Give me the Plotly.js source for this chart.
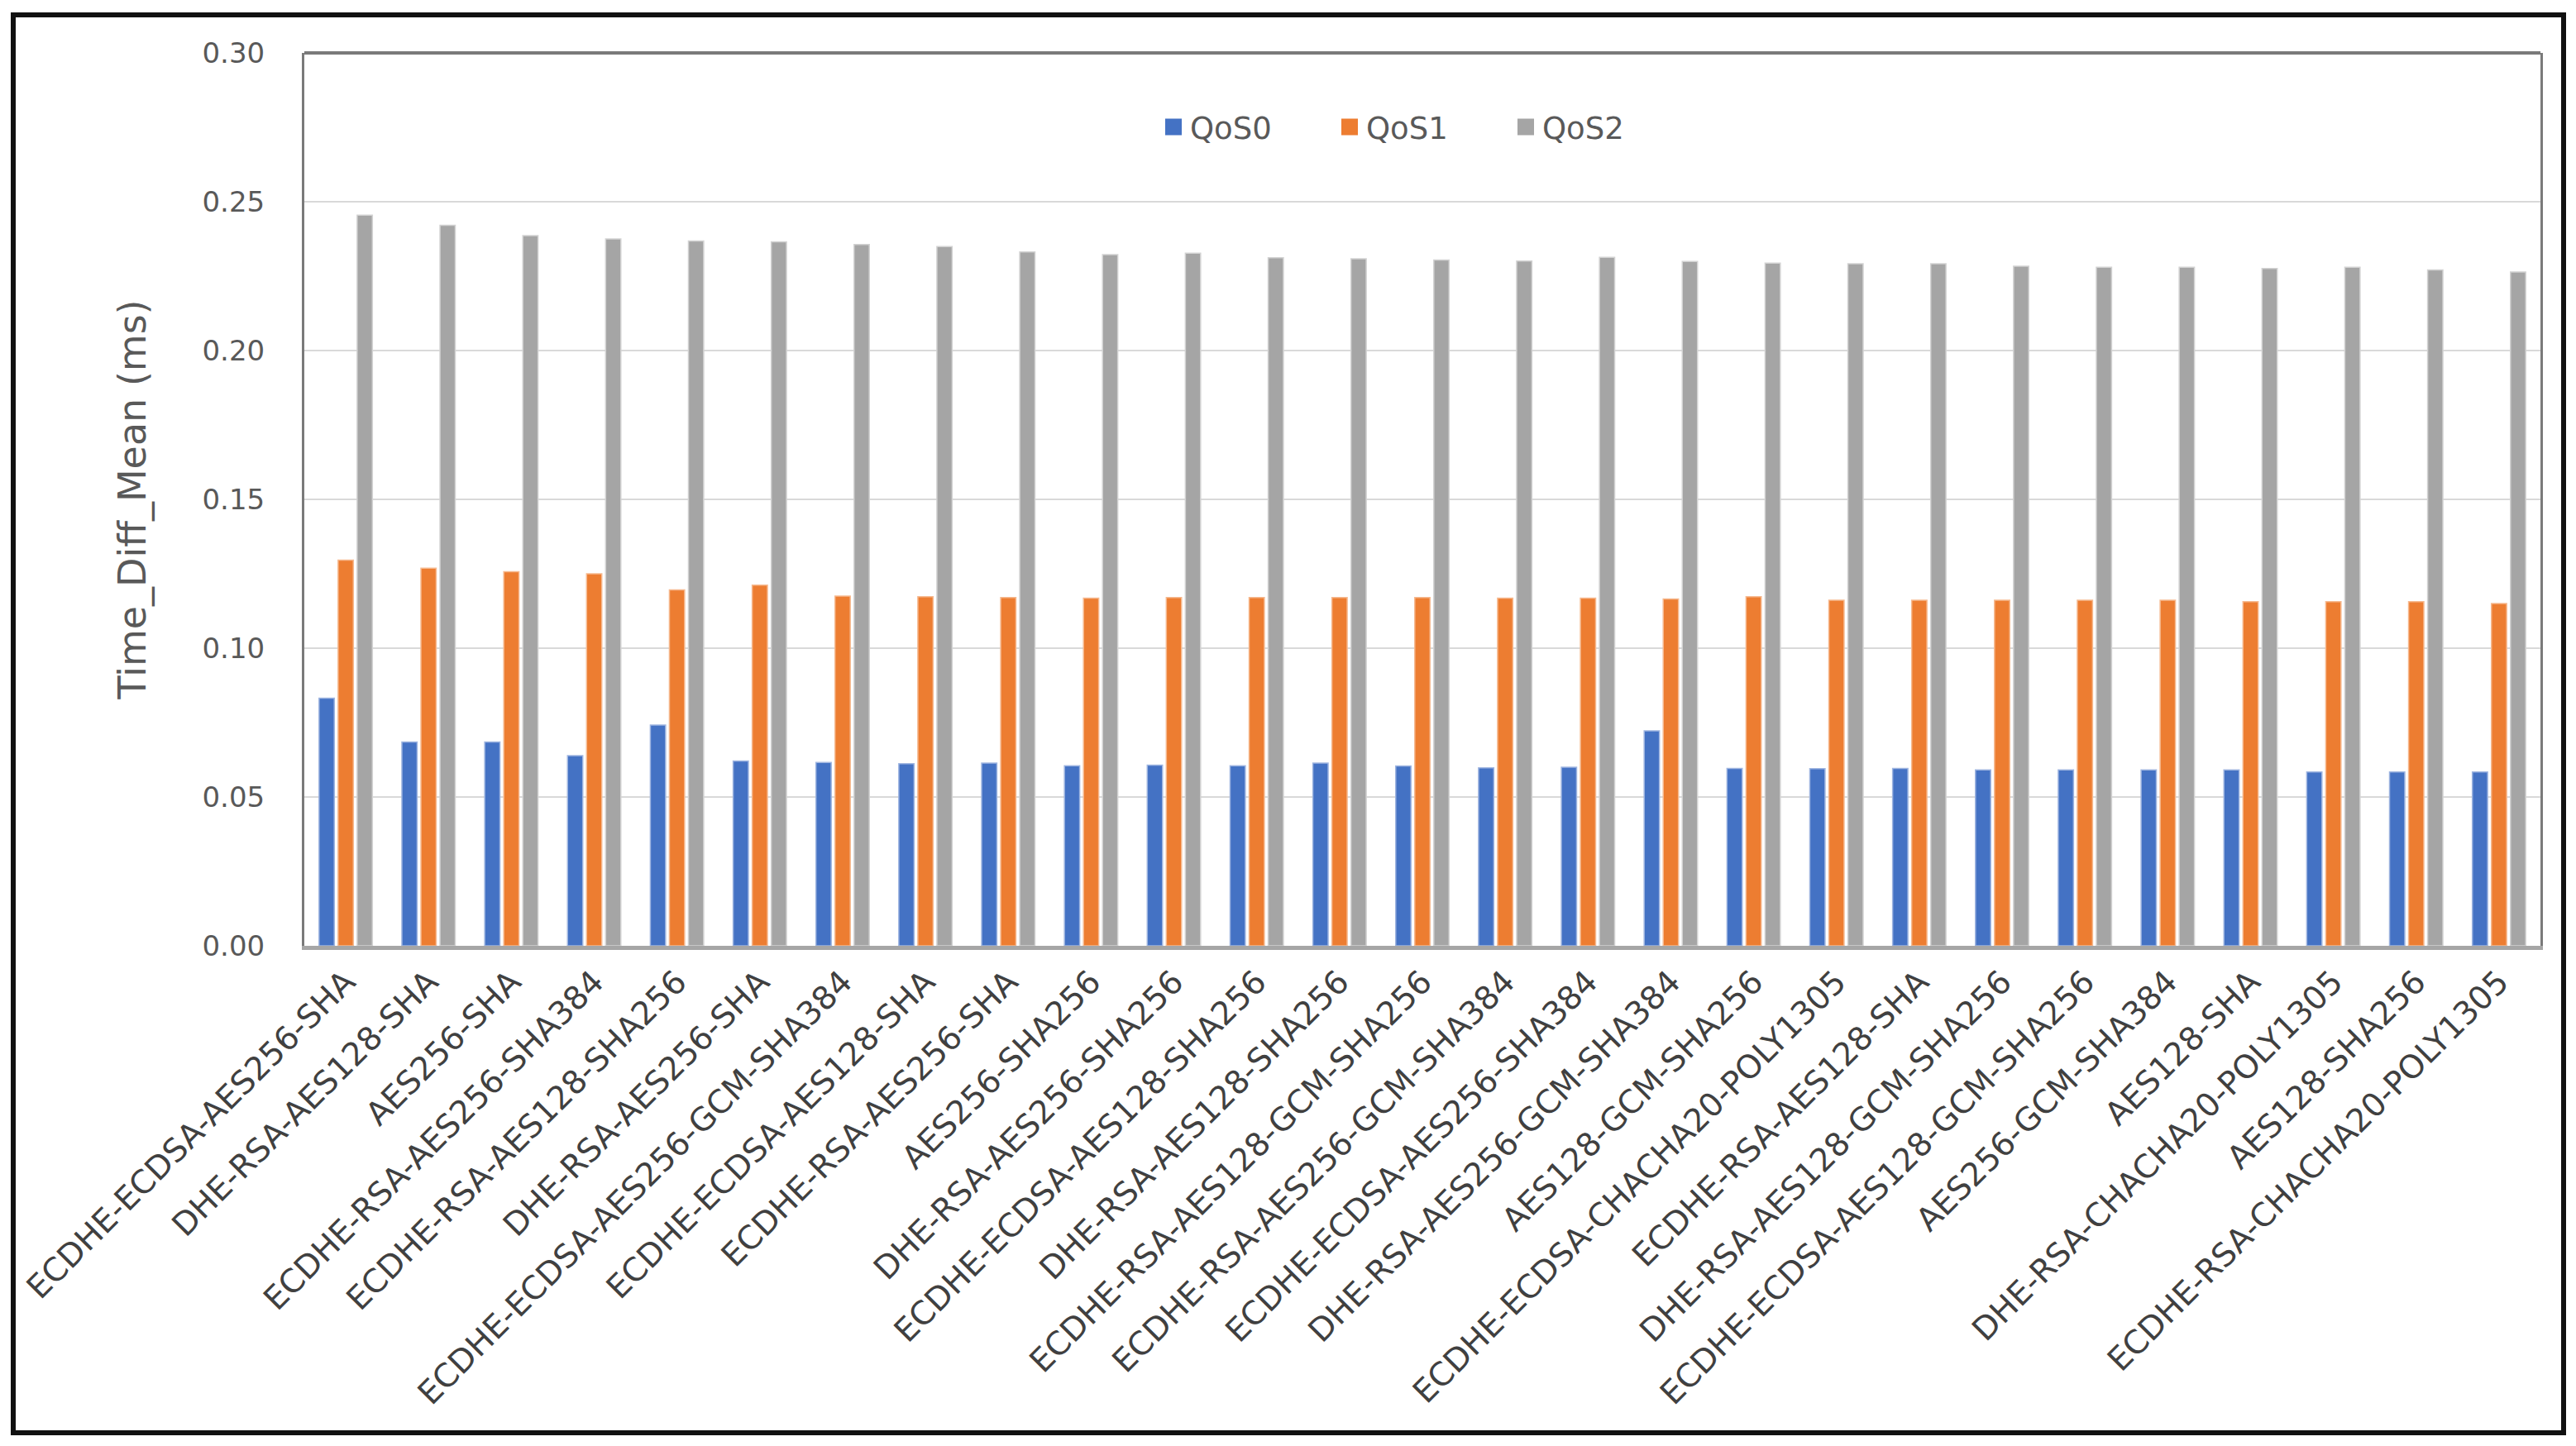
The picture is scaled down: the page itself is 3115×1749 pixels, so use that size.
<!DOCTYPE html>
<html>
<head>
<meta charset="utf-8">
<script src="https://cdn.plot.ly/plotly-3.0.1.min.js"></script>
<style>
html,body{margin:0;padding:0;background:#fff;}
#chart{width:3115px;height:1749px;}
</style>
</head>
<body>
<div id="chart"></div>
<script>
const categories = [
  "ECDHE-ECDSA-AES256-SHA","DHE-RSA-AES128-SHA","AES256-SHA","ECDHE-RSA-AES256-SHA384",
  "ECDHE-RSA-AES128-SHA256","DHE-RSA-AES256-SHA","ECDHE-ECDSA-AES256-GCM-SHA384",
  "ECDHE-ECDSA-AES128-SHA","ECDHE-RSA-AES256-SHA","AES256-SHA256","DHE-RSA-AES256-SHA256",
  "ECDHE-ECDSA-AES128-SHA256","DHE-RSA-AES128-SHA256","ECDHE-RSA-AES128-GCM-SHA256",
  "ECDHE-RSA-AES256-GCM-SHA384","ECDHE-ECDSA-AES256-SHA384","DHE-RSA-AES256-GCM-SHA384",
  "AES128-GCM-SHA256","ECDHE-ECDSA-CHACHA20-POLY1305","ECDHE-RSA-AES128-SHA",
  "DHE-RSA-AES128-GCM-SHA256","ECDHE-ECDSA-AES128-GCM-SHA256","AES256-GCM-SHA384",
  "AES128-SHA","DHE-RSA-CHACHA20-POLY1305","AES128-SHA256","ECDHE-RSA-CHACHA20-POLY1305"
];
const qos0 = [0.0832,0.0685,0.0685,0.0639,0.0742,0.0621,0.0616,0.0612,0.0614,0.0605,
              0.0607,0.0605,0.0614,0.0604,0.0598,0.0600,0.0722,0.0596,0.0595,0.0596,
              0.0591,0.0591,0.0591,0.0591,0.0584,0.0584,0.0584];
const qos1 = [0.1296,0.1269,0.1257,0.1250,0.1196,0.1212,0.1175,0.1173,0.1170,0.1168,
              0.1170,0.1170,0.1170,0.1170,0.1168,0.1168,0.1165,0.1173,0.1161,0.1161,
              0.1161,0.1161,0.1161,0.1156,0.1156,0.1156,0.1150];
const qos2 = [0.2455,0.2421,0.2386,0.2375,0.2368,0.2365,0.2356,0.2349,0.2331,0.2322,
              0.2327,0.2312,0.2308,0.2304,0.2301,0.2313,0.2299,0.2294,0.2292,0.2292,
              0.2283,0.2280,0.2280,0.2276,0.2280,0.2271,0.2264];
const seriesNames = ["QoS0","QoS1","QoS2"];
const seriesColors = ["#4472C4","#ED7D31","#A5A5A5"];
const seriesEdge = ["#9DB4E0","#F6B98F","#D2D2D2"];
const yTicks = [0,0.05,0.10,0.15,0.20,0.25,0.30];

const W = 3115, H = 1749;
const L = 368, R = 3072, T = 64, B = 1144;
const pw = R - L, ph = B - T;
const px = x => (x - L) / pw;
const py = y => (B - y) / ph;

const FONT = "DejaVu Sans, sans-serif";

const barTraces = [qos0, qos1, qos2].map((vals, i) => ({
  type: "bar",
  name: seriesNames[i],
  x: categories,
  y: vals,
  showlegend: false,
  marker: {color: seriesColors[i], line: {width: 1.5, color: seriesEdge[i]}},
  hoverinfo: "x+y+name"
}));

const legendTraces = seriesNames.map((n, i) => ({
  type: "scatter",
  mode: "markers",
  name: n,
  x: [categories[0]],
  y: [null],
  showlegend: true,
  marker: {symbol: "square", size: 16, color: seriesColors[i], line: {width: 4, color: seriesColors[i]}},
  hoverinfo: "skip"
}));

const layout = {
  width: W, height: H,
  margin: {l: L, r: W - R, t: T, b: H - B, pad: 0},
  paper_bgcolor: "#ffffff",
  plot_bgcolor: "#ffffff",
  barmode: "group",
  bargap: 0.31,
  bargroupgap: 0.2,
  font: {family: FONT, color: "#595959"},
  showlegend: true,
  legend: {
    orientation: "h",
    x: px(1399), xanchor: "left",
    y: py(154), yanchor: "middle",
    entrywidth: 168, entrywidthmode: "pixels",
    font: {size: 37, color: "#595959", family: FONT},
    bgcolor: "rgba(0,0,0,0)"
  },
  xaxis: {
    type: "category",
    range: [-0.5, categories.length - 0.5],
    autorange: false,
    tickangle: -45,
    tickfont: {size: 39, color: "#404040", family: FONT},
    showline: true, linecolor: "#A6A6A6", linewidth: 5,
    showgrid: false, ticks: "", automargin: false,
    zeroline: false
  },
  yaxis: {
    range: [0, 0.30],
    autorange: false,
    tickvals: yTicks,
    tickformat: ".2f",
    tickfont: {size: 34, color: "#595959", family: FONT},
    ticklabelstandoff: 38,
    showgrid: true, gridcolor: "#D9D9D9", gridwidth: 2,
    showline: true, linecolor: "#7A7A7A", linewidth: 3, mirror: true,
    ticks: "", ticklen: 0, automargin: false, zeroline: false,
    title: {text: "Time_Diff_Mean (ms)", font: {size: 46, color: "#595959", family: FONT}, standoff: 54}
  },
  shapes: [
    {type: "line", xref: "paper", yref: "paper", x0: 0, x1: 1, y0: 1, y1: 1,
     line: {color: "#7A7A7A", width: 4}, layer: "above"},
    {type: "rect", xref: "paper", yref: "paper",
     x0: px(16), x1: px(3100), y0: py(18), y1: py(1733),
     line: {color: "#111111", width: 6}, fillcolor: "rgba(0,0,0,0)", layer: "above"}
  ]
};

Plotly.newPlot("chart", barTraces.concat(legendTraces), layout, {displayModeBar: false, staticPlot: true});
</script>
</body>
</html>
